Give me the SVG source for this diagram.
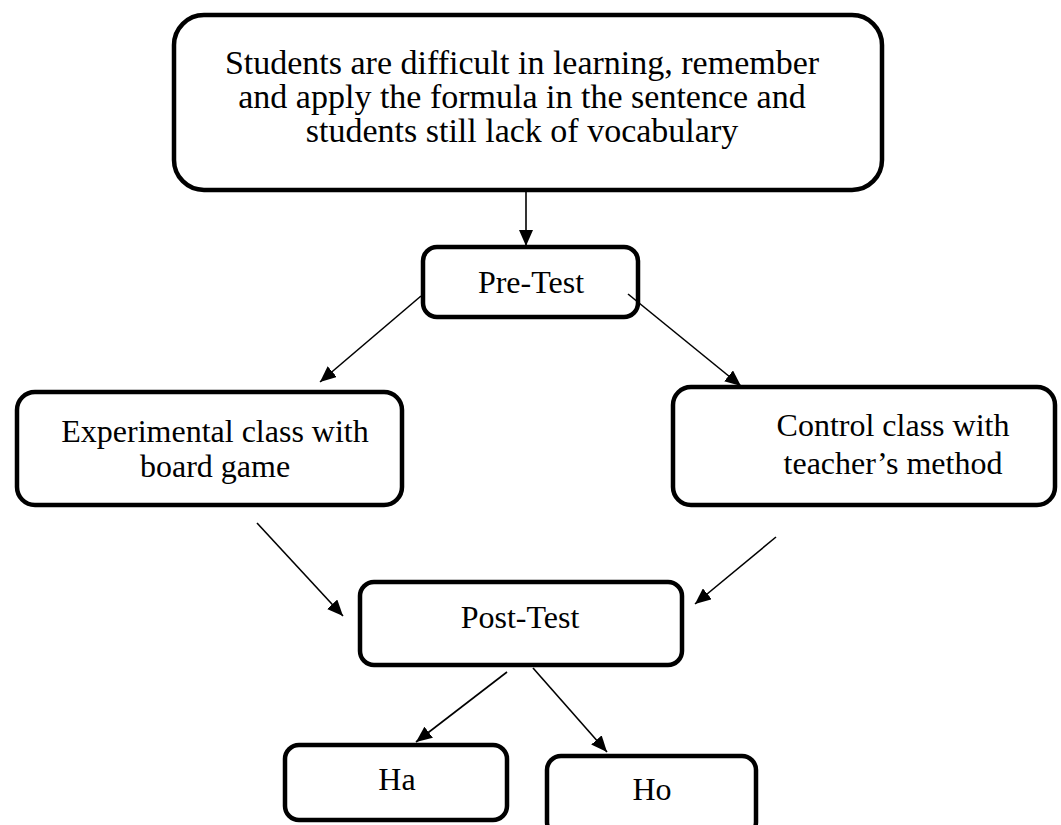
<svg xmlns="http://www.w3.org/2000/svg" width="1061" height="825" viewBox="0 0 1061 825">
<style>
.box{fill:#fff;stroke:#000;stroke-width:4.5}
.t{font-family:"Liberation Serif","Times New Roman",serif;font-size:32px;fill:#000;text-anchor:middle}
.big{font-size:34px}
.c{stroke:#000;stroke-width:1.6;fill:none;marker-end:url(#ah)}
</style>
<defs>
<marker id="ah" markerUnits="userSpaceOnUse" markerWidth="16" markerHeight="14" refX="16" refY="7" orient="auto">
<path d="M0,0 L16,7 L0,14 z" fill="#000"/>
</marker>
</defs>
<rect width="1061" height="825" fill="#fff"/>
<g id="problem">
<rect class="box" x="174" y="15" width="708" height="175" rx="30"/>
<text class="t big" x="522" y="74">Students are difficult in learning, remember</text>
<text class="t big" x="522" y="108">and apply the formula in the sentence and</text>
<text class="t big" x="522" y="142">students still lack of vocabulary</text>
</g>
<g id="pretest">
<rect class="box" x="423" y="247" width="215" height="70" rx="14"/>
<text class="t" x="531" y="293">Pre-Test</text>
</g>
<g id="experimental">
<rect class="box" x="17" y="392" width="385" height="113" rx="18"/>
<text class="t" x="215" y="442">Experimental class with</text>
<text class="t" x="215" y="477">board game</text>
</g>
<g id="control">
<rect class="box" x="673" y="387" width="382" height="118" rx="18"/>
<text class="t" x="893" y="436">Control class with</text>
<text class="t" x="893" y="474">teacher’s method</text>
</g>
<g id="posttest">
<rect class="box" x="360" y="582" width="322" height="83" rx="14"/>
<text class="t" x="520" y="628">Post-Test</text>
</g>
<g id="ha">
<rect class="box" x="285" y="745" width="222" height="75" rx="14"/>
<text class="t" x="397" y="790">Ha</text>
</g>
<g id="ho">
<rect class="box" x="547" y="756" width="209" height="80" rx="14"/>
<text class="t" x="652" y="800">Ho</text>
</g>
<g id="connectors">
<line class="c" x1="526" y1="192" x2="526" y2="246"/>
<line class="c" x1="421" y1="296" x2="320" y2="382"/>
<line class="c" x1="628" y1="294" x2="741" y2="386"/>
<line class="c" x1="257" y1="523" x2="343" y2="616"/>
<line class="c" x1="776" y1="537" x2="695" y2="604"/>
<line class="c" x1="507" y1="672" x2="416" y2="742"/>
<line class="c" x1="533" y1="668" x2="607" y2="752"/>
</g>
</svg>
